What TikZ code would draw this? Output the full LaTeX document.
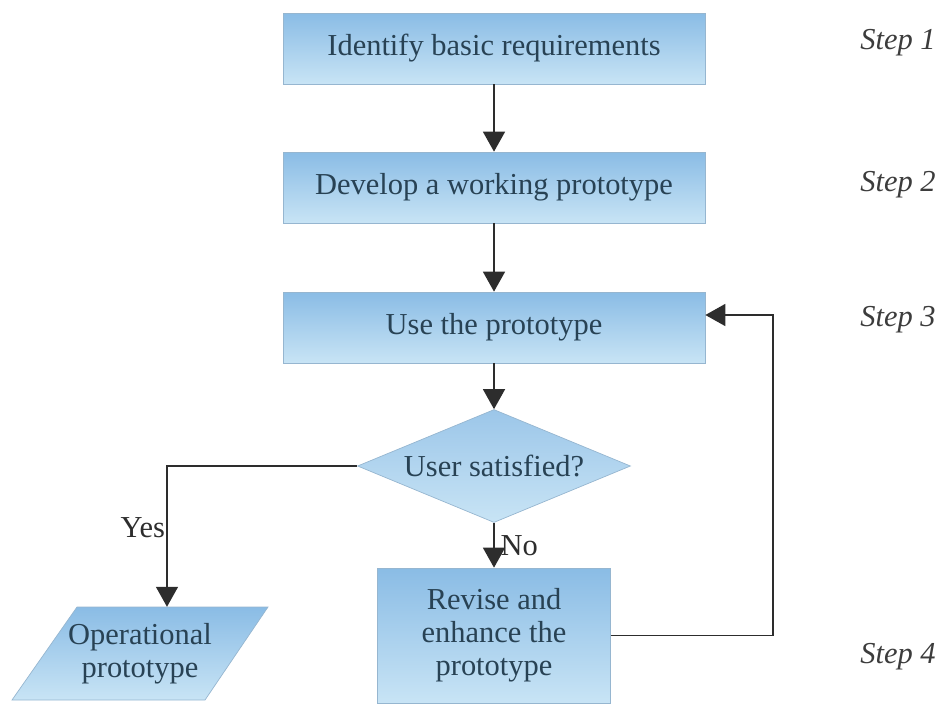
\documentclass[tikz,border=0pt]{standalone}
\usepackage{fontspec}
\setmainfont{Liberation Serif}
\usepackage{tikz}
\usetikzlibrary{shapes, shapes.geometric, positioning, arrows.meta, calc}
\definecolor{boxtop}{RGB}{138, 188, 229}
\definecolor{boxbottom}{RGB}{200, 228, 245}
\definecolor{boxline}{RGB}{150, 182, 208}
\definecolor{boxtext}{RGB}{40, 66, 84}
\definecolor{flowline}{RGB}{45, 45, 45}
\definecolor{steptext}{RGB}{60, 60, 60}

\begin{document}
\begin{tikzpicture}[
    font=\fontsize{26}{28}\selectfont,
    stepbox/.style={draw=boxline, line width=0.6pt, top color=boxtop, bottom color=boxbottom, text=boxtext, minimum width=12.66cm, minimum height=2.13cm, align=center},
    decision/.style={diamond, draw=boxline, line width=0.6pt, top color=boxtop!85, bottom color=boxbottom, text=boxtext, inner sep=0pt, shape aspect=2.42, minimum width=8.19cm, minimum height=3.39cm},
    iotext/.style={text=boxtext, minimum width=5.76cm, minimum height=2.79cm, align=center},
    steplabel/.style={text=steptext, font=\fontsize{26}{28}\selectfont\itshape},
    flow/.style={draw=flowline, line width=1.3pt, -{Triangle[width=0.66cm, length=0.6cm]}},
    lbl/.style={text=flowline, inner sep=2pt}
]
    \useasboundingbox (0,0) rectangle (28.26,-21.12);

    % Main steps
    \node[stepbox] (ident) at (14.82,-1.455) {Identify basic requirements};
    \node[stepbox] (develop) at (14.82,-5.625) {Develop a working prototype};
    \node[stepbox] (use) at (14.82,-9.825) {Use the prototype};
    \node[decision] (sat) at (14.82,-13.98) {User satisfied?};
    \node[stepbox, minimum width=6.99cm, minimum height=4.05cm] (revise) at (14.82,-19.065) {Revise and\\enhance the\\prototype};

    % Operational prototype (parallelogram)
    \coordinate (operc) at (4.2,-19.605);
    \shadedraw[draw=boxline, line width=0.6pt, top color=boxtop, bottom color=boxbottom]
        ($(operc)+(-3.84,-1.395)$) -- ($(operc)+(1.95,-1.395)$) -- ($(operc)+(3.84,1.395)$) -- ($(operc)+(-1.89,1.395)$) -- cycle;
    \node[iotext] (oper) at (operc) {Operational\\prototype};
    \coordinate (opertop) at ($(oper.north)+(0.81,0)$);

    % Step labels
    \node[steplabel] (s1) at (26.94,-1.29) {Step 1};
    \node[steplabel] (s2) at (26.94,-5.55) {Step 2};
    \node[steplabel] (s3) at (26.94,-9.6) {Step 3};
    \node[steplabel] (s4) at (26.94,-19.71) {Step 4};

    % Connectors
    \coordinate (loop) at (23.19,-9.45);
    \draw[flow] (ident) -- (develop);
    \draw[flow] (develop) -- (use);
    \draw[flow] (use) -- (sat);
    \draw[flow] (sat) -- node[lbl, right, inner sep=5pt] {No} (revise);
    \draw[flow] (sat.west) -| node[lbl, pos=0.72, left, inner sep=1pt] {Yes} (opertop);
    \draw[flow] (revise.east) -| (loop) -- (loop -| use.east);
\end{tikzpicture}
\end{document}
